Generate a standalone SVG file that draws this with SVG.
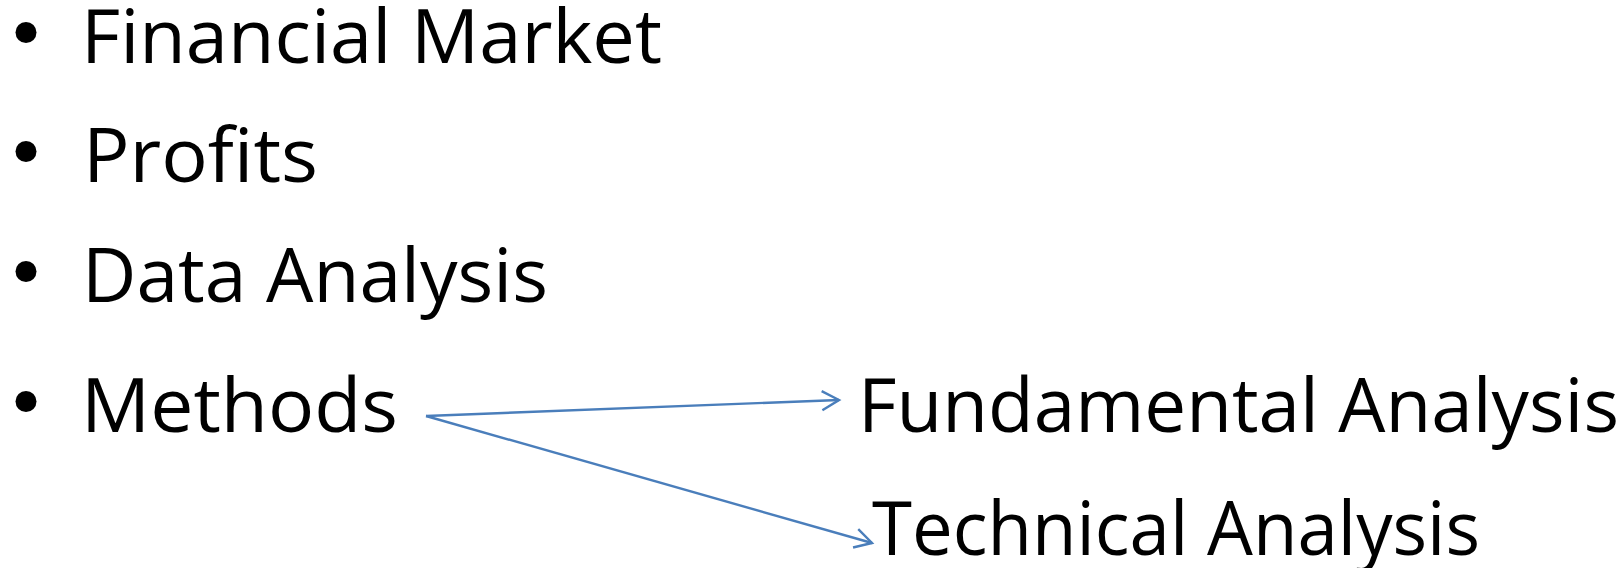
<svg xmlns="http://www.w3.org/2000/svg" width="1624" height="568" viewBox="0 0 1624 568">
  <style>
    .t { font-family: "Open Sans", "Liberation Sans", sans-serif; font-size: 75px; fill: #000; }
    .b { fill: #000; }
    .c { stroke: #4A7EBB; stroke-width: 2.4; fill: none; }
  </style>
  <defs>
    <marker id="arr" markerUnits="userSpaceOnUse" markerWidth="20" markerHeight="22" refX="17" refY="10" orient="auto" overflow="visible">
      <path d="M0,0.5 L17,10 L0,19.5" fill="none" stroke="#4A7EBB" stroke-width="2.4"/>
    </marker>
  </defs>
  <rect width="1624" height="568" fill="#fff"/>
  <g id="financial-market">
    <circle class="b" cx="26" cy="32.5" r="10.5"/>
    <text class="t" x="81" y="63" textLength="581" lengthAdjust="spacingAndGlyphs">Financial Market</text>
  </g>
  <g id="profits">
    <circle class="b" cx="26" cy="151.5" r="10.5"/>
    <text class="t" x="83" y="182" textLength="235" lengthAdjust="spacingAndGlyphs">Profits</text>
  </g>
  <g id="data-analysis">
    <circle class="b" cx="26" cy="271.5" r="10.5"/>
    <text class="t" x="82" y="302" textLength="466" lengthAdjust="spacingAndGlyphs">Data Analysis</text>
  </g>
  <g id="methods">
    <circle class="b" cx="26" cy="401.5" r="10.5"/>
    <text class="t" x="81" y="432" textLength="317" lengthAdjust="spacingAndGlyphs">Methods</text>
  </g>
  <g id="fundamental-analysis">
    <text class="t" x="858" y="432" textLength="761" lengthAdjust="spacingAndGlyphs">Fundamental Analysis</text>
  </g>
  <g id="technical-analysis">
    <text class="t" x="872" y="555" textLength="608" lengthAdjust="spacingAndGlyphs">Technical Analysis</text>
  </g>
  <g id="connectors">
    <line class="c" x1="426" y1="416" x2="839" y2="400" marker-end="url(#arr)"/>
    <line class="c" x1="426" y1="416" x2="872" y2="543" marker-end="url(#arr)"/>
  </g>
</svg>
